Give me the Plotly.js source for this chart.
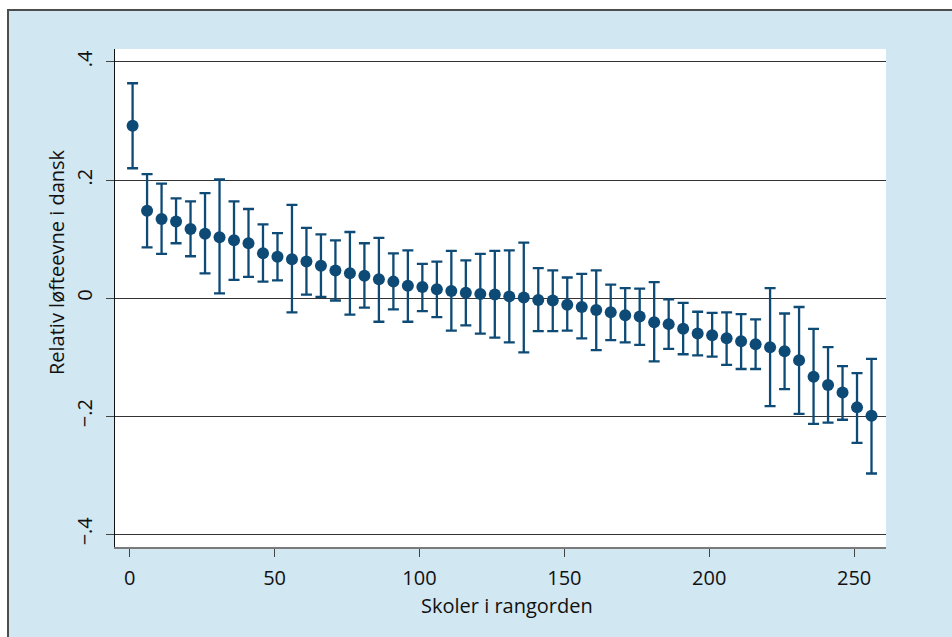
<!DOCTYPE html>
<html>
<head>
<meta charset="utf-8">
<script src="https://cdn.plot.ly/plotly-3.0.1.min.js"></script>
<style>
  html, body { margin: 0; padding: 0; background: #ffffff; }
  #frame { position: absolute; left: 7px; top: 9px; width: 945px; height: 628px;
           background: #d1e7f2; border-top: 2px solid #4d4d4d; border-left: 2px solid #4d4d4d;
           box-sizing: border-box; }
  #chart { position: absolute; left: 0; top: 0; width: 952px; height: 637px; }
</style>
</head>
<body>
<div id="frame"></div>
<div id="chart"></div>
<script>
// School rank (x) and estimated relative value-added in Danish with 95% CI
const rank = [1, 6, 11, 16, 21, 26, 31, 36, 41, 46, 51, 56, 61, 66, 71, 76, 81, 86, 91, 96,
              101, 106, 111, 116, 121, 126, 131, 136, 141, 146, 151, 156, 161, 166, 171, 176,
              181, 186, 191, 196, 201, 206, 211, 216, 221, 226, 231, 236, 241, 246, 251, 256];
const estimate = [0.292, 0.148, 0.134, 0.130, 0.117, 0.109, 0.103, 0.098, 0.093, 0.076,
                  0.070, 0.066, 0.062, 0.055, 0.047, 0.042, 0.038, 0.032, 0.028, 0.021,
                  0.019, 0.015, 0.012, 0.009, 0.007, 0.006, 0.003, 0.001, -0.003, -0.004,
                  -0.011, -0.015, -0.020, -0.024, -0.029, -0.031, -0.041, -0.044, -0.052, -0.060,
                  -0.063, -0.068, -0.073, -0.078, -0.083, -0.090, -0.105, -0.133, -0.147, -0.160,
                  -0.185, -0.199];
const upper = [0.364, 0.210, 0.194, 0.169, 0.164, 0.178, 0.201, 0.164, 0.151, 0.125,
               0.110, 0.158, 0.119, 0.108, 0.098, 0.112, 0.093, 0.102, 0.076, 0.081,
               0.058, 0.062, 0.080, 0.064, 0.075, 0.080, 0.081, 0.094, 0.051, 0.047,
               0.035, 0.041, 0.047, 0.023, 0.017, 0.016, 0.027, -0.002, -0.008, -0.023,
               -0.025, -0.024, -0.027, -0.036, 0.017, -0.026, -0.015, -0.052, -0.083, -0.115,
               -0.127, -0.103];
const lower = [0.220, 0.086, 0.075, 0.093, 0.071, 0.042, 0.008, 0.031, 0.036, 0.028,
               0.030, -0.024, 0.006, 0.002, -0.004, -0.028, -0.016, -0.040, -0.019, -0.040,
               -0.022, -0.032, -0.055, -0.046, -0.060, -0.067, -0.075, -0.092, -0.056, -0.056,
               -0.055, -0.068, -0.088, -0.071, -0.075, -0.079, -0.107, -0.086, -0.095, -0.097,
               -0.099, -0.113, -0.120, -0.120, -0.183, -0.154, -0.196, -0.213, -0.211, -0.206,
               -0.245, -0.297];
const xTickVals = [0, 50, 100, 150, 200, 250];
const xTickText = ["0", "50", "100", "150", "200", "250"];
const yTickVals = [-0.4, -0.2, 0, 0.2, 0.4];
const yTickText = ["\u2212.4", "\u2212.2", "0", ".2", ".4"];
const xTitle = "Skoler i rangorden";
const yTitle = "Relativ løfteevne i dansk";

const navy = "#0e4a76";
const font = "Open Sans, DejaVu Sans, sans-serif";

const errPlus = upper.map((u, i) => u - estimate[i]);
const errMinus = lower.map((l, i) => estimate[i] - l);

const trace = {
  type: "scatter",
  mode: "markers",
  x: rank,
  y: estimate,
  marker: { color: navy, size: 12, line: { width: 0 } },
  error_y: {
    type: "data", symmetric: false,
    array: errPlus, arrayminus: errMinus,
    color: navy, thickness: 2.3, width: 5.5
  },
  hoverinfo: "x+y",
  showlegend: false
};

const layout = {
  width: 952, height: 637,
  margin: { l: 115, r: 66, t: 49, b: 90 },
  paper_bgcolor: "rgba(0,0,0,0)",
  plot_bgcolor: "#ffffff",
  font: { family: font, color: "#111111", size: 20 },
  xaxis: {
    range: [-5.07, 261],
    tickvals: xTickVals, ticktext: xTickText,
    showgrid: false, zeroline: false,
    showline: true, linecolor: "#7a7a7a", linewidth: 2,
    ticks: "outside", ticklen: 8, tickwidth: 1, tickcolor: "#444444",
    ticklabelstandoff: 4,
    tickfont: { family: font, size: 20, color: "#111111" }
  },
  yaxis: {
    range: [-0.4215, 0.422],
    tickvals: yTickVals, ticktext: yTickText,
    tickangle: -90,
    showgrid: true, gridcolor: "#333333", gridwidth: 1,
    zeroline: false,
    showline: true, linecolor: "#111111", linewidth: 1,
    ticks: "outside", ticklen: 8, tickwidth: 1, tickcolor: "#444444",
    ticklabelstandoff: 6,
    tickfont: { family: font, size: 20, color: "#111111" }
  },
  annotations: [
    { text: xTitle, xref: "paper", yref: "paper", x: 0.5084, y: -0.1165,
      xanchor: "center", yanchor: "middle", showarrow: false,
      font: { family: font, size: 20, color: "#111111" } },
    { text: yTitle, xref: "paper", yref: "paper", x: -0.0752, y: 0.5723,
      xanchor: "center", yanchor: "middle", showarrow: false, textangle: -90,
      font: { family: font, size: 20, color: "#111111" } }
  ]
};

Plotly.newPlot("chart", [trace], layout, { displayModeBar: false, staticPlot: true });
</script>
</body>
</html>
